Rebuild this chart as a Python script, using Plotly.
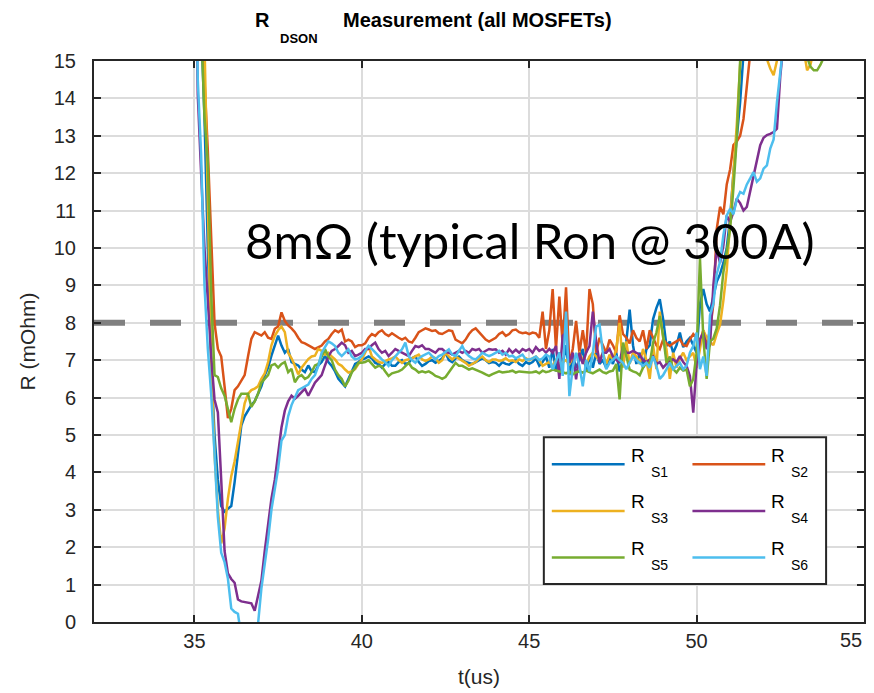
import plotly.graph_objects as go

# ---------------- data ----------------
T_START = 35.0   # us, first sample
T_STEP = 0.1     # us, sample spacing

R_S1 = [
    20, 20, 16, 13.5, 10, 7, 5, 3.8, 3.1, 2.95,
    3.03, 3.1, 3.74, 4.45, 5.25, 5.5, 5.65, 5.8, 5.9, 6.1,
    6.3, 6.6, 6.8, 7.12, 7.4, 7.66, 7.39, 7.2, 7.3, 6.95,
    6.9, 6.86, 6.75, 6.68, 6.86, 6.7, 6.68, 6.86, 6.95, 7.12,
    6.95, 6.85, 6.7, 6.5, 6.4, 6.3, 6.5, 6.7, 6.9, 6.95,
    7.02, 7.05, 7.1, 7.05, 6.93, 6.9, 6.8, 6.9, 6.95, 6.85,
    6.85, 6.95, 7.0, 6.9, 6.93, 7.05, 7.1, 6.95, 6.85, 6.9,
    6.98, 7.0, 6.93, 6.98, 7.05, 7.2, 7.0, 6.95, 7.05, 7.1,
    7.0, 6.95, 6.93, 6.9, 6.95, 7.0, 7.05, 7.0, 6.92, 6.95,
    6.93, 6.85, 6.95, 6.9, 6.88, 6.95, 7.0, 6.9, 6.85, 6.95,
    6.9, 6.95, 7.05, 6.85, 6.95, 7.1, 6.8, 7.3, 6.7, 7.2,
    6.9, 7.4, 6.6, 7.1, 6.8, 7.0, 7.3, 6.7, 7.1, 6.8,
    7.2, 6.9, 7.0, 6.8, 7.1, 6.9, 7.2, 6.7, 7.0, 7.5,
    8.35, 7.4, 6.9, 7.2, 6.8, 7.29, 7.4, 8.1, 8.4, 8.63,
    8.1, 7.38, 7.5, 7.2, 7.4, 7.74, 7.35, 7.5, 7.6, 7.4,
    7.2, 8.5, 8.9, 8.5, 8.3, 8.7, 9.1, 9.3, 9.6, 10.0,
    10.8, 12.0, 12.9, 13.9, 15.2, 17, 20,
]

R_S2 = [
    20, 20, 17, 14.5, 12.6, 10.5, 8.0, 7.3, 7.1, 6.3,
    5.45, 5.7, 6.2, 6.3, 6.45, 6.6, 7.1, 7.57, 7.75, 7.7,
    7.66, 7.75, 7.6, 7.57, 7.84, 7.9, 8.28, 8.05, 7.93, 7.85,
    7.75, 7.6, 7.48, 7.45, 7.39, 7.35, 7.3, 7.35, 7.39, 7.5,
    7.57, 7.7, 7.8, 7.75, 7.82, 7.5, 7.55, 7.5, 7.35, 7.4,
    7.4, 7.45, 7.6, 7.7, 7.65, 7.75, 7.8, 7.7, 7.65, 7.72,
    7.65, 7.6, 7.55, 7.6, 7.5, 7.47, 7.6, 7.75, 7.8, 7.85,
    7.82, 7.78, 7.8, 7.72, 7.7, 7.75, 7.8, 7.78, 7.55, 7.5,
    7.45, 7.55, 7.7, 7.8, 7.85, 7.75, 7.65, 7.55, 7.5, 7.55,
    7.6, 7.7, 7.75, 7.65, 7.7, 7.8, 7.82, 7.75, 7.72, 7.74,
    7.7, 7.74, 7.72, 7.6, 8.3, 7.3, 7.8, 8.9, 7.3, 8.7,
    7.4, 8.95, 6.9, 7.3, 8.05, 7.2, 7.8, 7.2, 8.9, 8.5,
    7.2, 7.6, 7.4, 7.2, 7.55, 7.4, 7.2, 8.2, 7.7, 7.6,
    7.45, 7.8, 7.6, 7.5, 7.8, 7.3, 7.8, 7.6, 7.4, 7.3,
    7.55, 7.45, 7.38, 7.45, 7.5, 7.56, 7.4, 7.38, 7.56, 7.7,
    7.6, 7.5, 7.8, 7.4, 7.8, 8.5, 10.5, 11.1, 10.9, 11.7,
    12.1, 12.75, 12.85, 13.0, 13.45, 14.4, 15.2, 17, 20,
]

R_S3 = [
    20, 20, 20, 15.5, 11, 7, 4.5, 3.0, 2.1, 2.5,
    3.3, 3.9, 4.3, 4.8, 5.4, 5.85, 6.1, 6.2, 6.24, 6.3,
    6.5, 6.65, 6.95, 7.4, 7.65, 7.8, 7.9, 7.75, 7.2, 7.05,
    6.85, 6.62, 6.8, 6.9, 7.03, 7.1, 7.12, 7.3, 7.25, 7.15,
    7.2, 7.1, 7.02, 6.9, 6.85, 6.75, 6.67, 6.7, 6.76, 6.9,
    7.02, 7.2, 7.38, 7.1, 7.02, 6.95, 6.93, 6.98, 7.02, 7.05,
    7.1, 7.0, 6.93, 7.0, 7.02, 7.05, 7.1, 7.15, 7.02, 6.98,
    7.02, 7.1, 7.05, 6.93, 7.0, 7.2, 7.1, 7.02, 7.1, 7.05,
    7.0, 6.93, 6.85, 6.9, 6.95, 7.05, 7.1, 7.0, 6.95, 7.02,
    7.02, 6.98, 7.0, 7.05, 6.98, 7.0, 6.95, 7.02, 6.98, 7.05,
    7.0, 7.05, 7.1, 7.0, 6.85, 6.9, 6.95, 6.85, 7.0, 6.9,
    6.95, 7.0, 6.9, 7.05, 7.1, 7.2, 7.0, 6.9, 7.1, 7.2,
    7.1, 7.0, 7.2, 6.9, 7.15, 7.0, 7.3, 8.0, 6.8, 7.5,
    6.9, 7.2, 7.1, 6.9, 7.3, 7.0, 6.5, 7.4, 6.76, 8.3,
    7.6, 7.3, 6.5, 7.2, 6.8, 7.05, 7.2, 7.0, 7.1, 7.2,
    6.8, 7.3, 7.8, 7.6, 7.5, 7.4, 7.7, 7.95, 8.6, 9.4,
    10.7, 11.9, 13.3, 14.9, 16, 16, 16, 16, 15.8, 15.3,
    15.3, 15.05, 14.8, 14.62, 15.0, 15.4, 16, 16, 16, 16,
    16, 16, 15.3, 14.75, 14.9, 15.3, 16,
]

R_S4 = [
    20, 14.1, 12.0, 10.0, 8.6, 7.1, 5.95, 5.6, 3.8, 1.9,
    1.3, 1.15, 1.05, 0.6, 0.55, 0.53, 0.53, 0.5, 0.3, 0.75,
    1.1, 1.9, 2.6, 3.3, 3.8, 4.55, 5.2, 5.65, 5.9, 6.05,
    5.97, 6.05, 6.15, 6.24, 6.05, 6.24, 6.4, 6.5, 6.6, 6.86,
    7.1, 7.25, 7.3, 7.38, 7.47, 7.4, 7.2, 7.25, 7.11, 7.15,
    7.2, 7.3, 7.3, 7.4, 7.47, 7.3, 7.2, 7.25, 7.11, 7.2,
    7.3, 7.25, 7.2, 7.15, 7.11, 7.25, 7.38, 7.35, 7.4, 7.3,
    7.3, 7.25, 7.2, 7.3, 7.3, 7.22, 7.2, 7.15, 7.2, 7.25,
    7.2, 7.25, 7.2, 7.3, 7.27, 7.3, 7.2, 7.25, 7.3, 7.28,
    7.29, 7.2, 7.25, 7.15, 7.3, 7.2, 7.28, 7.2, 7.3, 7.25,
    7.3, 7.2, 7.35, 7.25, 7.3, 7.2, 7.3, 7.2, 7.38, 6.5,
    7.65, 7.74, 6.93, 7.2, 6.49, 7.2, 6.9, 7.2, 7.38, 8.3,
    7.5, 6.93, 7.2, 7.2, 7.3, 7.1, 7.0, 6.93, 7.38, 7.2,
    7.2, 7.25, 7.2, 7.15, 7.0, 6.95, 7.02, 7.1, 6.9, 6.95,
    6.8, 6.9, 7.0, 7.02, 6.95, 7.11, 6.95, 6.85, 6.58, 5.6,
    6.9, 7.56, 7.74, 7.3, 7.4, 9.0, 9.98, 9.6, 10.07, 10.87,
    10.7, 10.96, 11.32, 11.2, 11.0, 11.1, 11.5, 11.9, 12.39, 12.75,
    12.95, 13.02, 13.05, 13.1, 13.19, 14.6, 15.5, 17, 20,
]

R_S5 = [
    20, 20, 16, 13.5, 12.3, 8.8, 6.6, 6.55, 6.25, 6.05,
    5.7, 5.34, 5.7, 5.95, 6.1, 6.1, 6.1, 5.75, 5.9, 6.1,
    6.4, 6.5, 6.6, 6.86, 6.9, 6.8, 6.9, 6.95, 6.68, 6.77,
    6.41, 6.55, 6.6, 6.5, 6.55, 6.68, 6.86, 6.9, 7.12, 7.3,
    7.1, 7.0, 6.75, 6.6, 6.5, 6.3, 6.45, 6.67, 6.8, 6.93,
    6.93, 6.95, 7.0, 6.9, 6.8, 6.85, 6.83, 6.7, 6.58, 6.65,
    6.67, 6.7, 6.75, 6.85, 6.93, 6.8, 6.75, 6.67, 6.7, 6.67,
    6.7, 6.65, 6.58, 6.55, 6.5, 6.55, 6.67, 6.8, 6.93, 6.85,
    6.85, 6.8, 6.75, 6.78, 6.75, 6.7, 6.67, 6.62, 6.58, 6.63,
    6.67, 6.7, 6.67, 6.68, 6.7, 6.72, 6.67, 6.7, 6.69, 6.67,
    6.67, 6.68, 6.7, 6.65, 6.72, 6.68, 6.7, 6.75, 6.72, 6.7,
    6.68, 6.65, 6.7, 6.62, 6.68, 6.7, 6.67, 6.72, 6.68, 6.65,
    6.7, 6.75, 6.68, 6.65, 6.7, 6.72, 6.9, 5.95, 7.47, 7.1,
    6.75, 6.7, 6.67, 6.6, 6.8, 6.93, 6.9, 7.47, 7.74, 8.18,
    7.65, 6.93, 7.1, 6.76, 6.67, 6.8, 6.72, 6.75, 6.3, 6.5,
    7.2, 9.72, 7.6, 6.5, 7.5, 7.58, 7.85, 8.47, 9.36, 9.9,
    10.5, 11.6, 12.93, 15.0, 16, 16, 16, 16, 16, 16,
    16, 16, 16, 16, 16, 16, 16, 16, 16, 16,
    16, 16, 16, 15.1, 14.85, 14.75, 14.75, 14.9, 15.1, 16,
]

R_S6 = [
    20, 14.5, 12.5, 9.0, 7.3, 6.1, 4.5, 2.8, 1.85, 1.6,
    1.16, 0.36, 0.27, 0.22, -0.4, -0.7, -0.8, -0.7, -0.5, -0.05,
    0.9, 1.5, 2.2, 3.0, 3.5, 4.1, 4.85, 5.0, 5.5, 5.8,
    6.0, 6.2, 6.25, 6.3, 6.35, 6.5, 6.6, 6.85, 7.2, 7.35,
    7.5, 7.45, 7.38, 7.2, 7.11, 7.2, 7.29, 7.1, 7.02, 7.05,
    7.11, 7.25, 7.38, 7.3, 7.2, 7.1, 7.02, 6.95, 6.85, 7.0,
    7.11, 7.2, 7.29, 7.47, 7.11, 7.0, 6.93, 7.05, 7.11, 7.15,
    7.2, 7.11, 7.02, 7.11, 7.15, 7.22, 7.29, 7.15, 7.11, 7.25,
    7.38, 7.2, 7.11, 7.05, 7.02, 7.1, 7.2, 7.15, 7.11, 7.15,
    7.2, 7.25, 7.15, 7.2, 7.1, 7.12, 7.05, 7.1, 7.15, 7.02,
    7.02, 7.05, 7.1, 7.0, 7.05, 7.15, 7.1, 6.76, 7.0, 7.2,
    6.58, 8.3, 6.04, 6.8, 7.2, 6.85, 6.3, 7.0, 6.7, 7.2,
    7.9, 7.95, 7.2, 6.76, 6.93, 7.02, 7.1, 7.0, 6.93, 6.76,
    6.93, 7.1, 7.0, 6.93, 6.85, 6.93, 6.8, 7.1, 6.85, 6.5,
    6.6, 6.76, 6.93, 6.76, 6.85, 6.93, 6.76, 6.85, 7.2, 7.38,
    7.74, 6.76, 7.1, 6.58, 8.2, 8.5, 9.3, 9.63, 10.34, 10.87,
    11.05, 10.9, 11.3, 11.5, 11.45, 11.7, 11.86, 12.03, 11.77, 11.86,
    12.12, 12.21, 12.66, 12.9, 13.9, 14.8, 15.5, 17, 20,
]

SERIES = [R_S1, R_S2, R_S3, R_S4, R_S5, R_S6]
SUBSCRIPTS = ["S1", "S2", "S3", "S4", "S5", "S6"]
COLORS = ["#0072BD", "#D95319", "#EDB120", "#7E2F8E", "#77AC30", "#4DBEEE"]

TYPICAL_RON = 8          # mOhm, dashed reference line
X_RANGE = [32, 55]
Y_RANGE = [0, 15]
X_TICKS = [35, 40, 45, 50, 55]
X_TICK_LABELS = ["35", "40", "45", "50", "55"]
Y_TICKS = list(range(0, 16))

# ---------------- layout helpers ----------------
OFF = 8                      # page body margin of the html page
W, H = 874 - OFF, 693 - OFF
ML, MR, MT, MB = 86, 8, 53, 70
PW, PH = W - ML - MR, H - MT - MB
AX = "#262626"
FONT = "Liberation Sans, Arial, sans-serif"
TICK_SIZE = 20


def px(x):
    """page pixel x -> paper fraction"""
    return (x - OFF - ML) / PW


def py(y):
    """page pixel y -> paper fraction"""
    return (H - MB - (y - OFF)) / PH


fig = go.Figure()
for vals, sub, color in zip(SERIES, SUBSCRIPTS, COLORS):
    times = [round(T_START + i * T_STEP, 3) for i in range(len(vals))]
    fig.add_trace(go.Scatter(
        x=times, y=vals, mode="lines", name="R" + sub,
        line=dict(color=color, width=2.5), showlegend=False,
        hoverinfo="x+y+name",
    ))

shapes = [
    dict(type="line", xref="x", yref="y", x0=X_RANGE[0], x1=X_RANGE[1],
         y0=TYPICAL_RON, y1=TYPICAL_RON, layer="between",
         line=dict(color="#808080", width=6, dash="31px,25px")),
    dict(type="rect", xref="paper", yref="paper",
         x0=px(545), x1=px(828), y0=py(585), y1=py(438),
         line=dict(color=AX, width=2), fillcolor="white", layer="above"),
]
annotations = []
for i, (sub, color) in enumerate(zip(SUBSCRIPTS, COLORS)):
    col, row = i % 2, i // 2
    dx, dy = col * 141, row * 46.7
    shapes.append(dict(type="line", xref="paper", yref="paper",
                       x0=px(553 + dx), x1=px(626 + dx),
                       y0=py(465 + dy), y1=py(465 + dy), layer="above",
                       line=dict(color=color, width=2.5)))
    annotations.append(dict(text="R", xref="paper", yref="paper",
                            x=px(630 + dx), y=py(456 + dy), xanchor="left", yanchor="middle",
                            showarrow=False, font=dict(family=FONT, size=19, color="black")))
    annotations.append(dict(text=sub, xref="paper", yref="paper",
                            x=px(650 + dx), y=py(472.5 + dy), xanchor="left", yanchor="middle",
                            showarrow=False, font=dict(family=FONT, size=14, color="black")))

# last x tick label: drawn as an annotation nudged inwards so it stays inside the page
annotations.append(dict(text=X_TICK_LABELS[-1], xref="x", yref="paper",
                        x=X_TICKS[-1], y=0, xanchor="right", yanchor="middle",
                        xshift=-1, yshift=-18, showarrow=False, borderpad=0,
                        font=dict(family=FONT, size=TICK_SIZE, color=AX)))

# title pieces
annotations += [
    dict(text="<b>R</b>", xref="paper", yref="paper", x=px(253), y=py(20),
         xanchor="left", yanchor="middle", showarrow=False,
         font=dict(family=FONT, size=20, color="black")),
    dict(text="<b>DSON</b>", xref="paper", yref="paper", x=px(278), y=py(38),
         xanchor="left", yanchor="middle", showarrow=False,
         font=dict(family=FONT, size=13, color="black")),
    dict(text="<b>Measurement (all MOSFETs)</b>", xref="paper", yref="paper", x=px(342), y=py(20),
         xanchor="left", yanchor="middle", showarrow=False,
         font=dict(family=FONT, size=20, color="black")),
    dict(text="8mΩ (typical Ron @ 300A)", xref="paper", yref="paper", x=px(243), y=py(240),
         xanchor="left", yanchor="middle", showarrow=False,
         font=dict(family="Lato, Open Sans, sans-serif", size=49, color="black")),
]

axis_common = dict(
    showgrid=True, gridcolor="#dcdcdc", gridwidth=2,
    showline=True, linecolor=AX, linewidth=2, mirror="ticks",
    ticks="inside", ticklen=7, tickwidth=2, tickcolor=AX,
    zeroline=False,
    tickfont=dict(family=FONT, size=TICK_SIZE, color=AX),
)

fig.update_layout(
    width=W, height=H,
    margin=dict(l=ML, r=MR, t=MT, b=MB),
    paper_bgcolor="white", plot_bgcolor="white",
    shapes=shapes, annotations=annotations,
    showlegend=False,
    xaxis=dict(range=X_RANGE, tickvals=X_TICKS,
               ticktext=X_TICK_LABELS[:-1] + [""],
               ticklabelstandoff=0,
               title=dict(text="t(us)", font=dict(family=FONT, size=21, color=AX), standoff=18),
               **axis_common),
    yaxis=dict(range=Y_RANGE, tickvals=Y_TICKS, ticklabelstandoff=12,
               title=dict(text="R (mOhm)", font=dict(family=FONT, size=21, color=AX), standoff=12),
               **axis_common),
)

fig.write_html("out.html")
